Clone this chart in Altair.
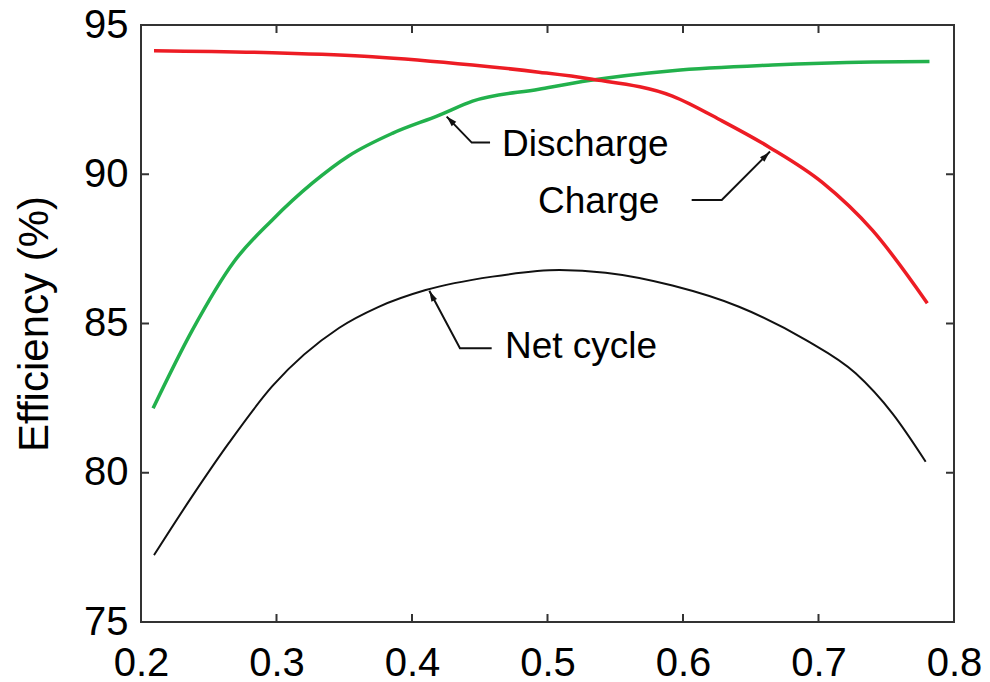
import altair as alt
import pandas as pd

# Charge (red)
charge_x = [0.2096, 0.2969, 0.3707, 0.4447, 0.4937, 0.5306, 0.5922, 0.6291, 0.6639, 0.7030, 0.7399, 0.7803]
charge_y = [94.14, 94.07, 93.94, 93.66, 93.42, 93.20, 92.62, 91.78, 90.90, 89.72, 88.12, 85.68]

# Discharge (green)
discharge_x = [0.2089, 0.2379, 0.2686, 0.2969, 0.3264, 0.3535, 0.3855, 0.4202, 0.4447, 0.4937, 0.5306, 0.5922, 0.6661, 0.7399, 0.7819]
discharge_y = [82.16, 84.78, 87.07, 88.47, 89.70, 90.62, 91.37, 91.98, 92.45, 92.85, 93.14, 93.47, 93.66, 93.76, 93.78]

# Net cycle (black)
net_x = [0.2096, 0.2376, 0.2649, 0.2969, 0.3461, 0.3750, 0.4101, 0.4594, 0.5089, 0.5429, 0.5922, 0.6413, 0.6905, 0.7274, 0.7545, 0.7791]
net_y = [77.24, 79.20, 81.00, 82.90, 84.85, 85.55, 86.12, 86.57, 86.79, 86.70, 86.27, 85.56, 84.45, 83.33, 81.99, 80.37]

x_ticks = [0.2, 0.3, 0.4, 0.5, 0.6, 0.7, 0.8]
y_ticks = [75, 80, 85, 90, 95]

labels = ["Discharge", "Charge", "Net cycle"]
label_x = [0.4664, 0.4930, 0.4686]
label_y = [90.61, 88.69, 83.83]

# annotation arrows: end of horizontal stub, elbow, tip
arrow_names = ["Discharge", "Charge", "Net cycle"]
arrow_x = [[0.4576, 0.4441, 0.4256], [0.6064, 0.6286, 0.6642], [0.4588, 0.4354, 0.4128]]
arrow_y = [[91.06, 91.06, 91.93], [89.14, 89.14, 90.76], [84.17, 84.17, 86.10]]
head_x = [0.4283, 0.6612, 0.4146]
head_y = [91.81, 90.62, 85.93]
head_angle = [316, 45, 332]

W, H = 813, 597
FONT = "Liberation Sans"

xs = alt.Scale(domain=[0.2, 0.8], nice=False, zero=False)
ys = alt.Scale(domain=[75, 95], nice=False, zero=False)

def series_df(xv, yv):
    return pd.DataFrame({"x": xv, "y": yv})

base_x = alt.X("x:Q", scale=xs, axis=alt.Axis(
    values=x_ticks, format=".1f", title=None, ticks=False, domain=False, grid=False,
    labelFontSize=40, labelFont=FONT, labelColor="black", labelPadding=21,
    labelFlush=False, labelOverlap=False))
base_y = alt.Y("y:Q", scale=ys, axis=alt.Axis(
    values=y_ticks, format="d", title="Efficiency (%)", ticks=False, domain=False, grid=False,
    labelFontSize=40, labelFont=FONT, labelColor="black", labelPadding=13,
    labelFlush=False, labelOverlap=False,
    titleFontSize=42, titleFont=FONT, titleFontWeight="normal", titleColor="black",
    titlePadding=27))

net = alt.Chart(series_df(net_x, net_y)).mark_line(
    color="#111111", strokeWidth=2, interpolate="monotone").encode(x=base_x, y=base_y)
green = alt.Chart(series_df(discharge_x, discharge_y)).mark_line(
    color="#22b14c", strokeWidth=3.5, interpolate="monotone").encode(
    x=alt.X("x:Q", scale=xs), y=alt.Y("y:Q", scale=ys))
red = alt.Chart(series_df(charge_x, charge_y)).mark_line(
    color="#ed1c24", strokeWidth=3.5, interpolate="monotone").encode(
    x=alt.X("x:Q", scale=xs), y=alt.Y("y:Q", scale=ys))

# inward ticks
xt = pd.DataFrame({"t": x_ticks[1:-1]})
yt = pd.DataFrame({"t": y_ticks[1:-1]})
tick_style = dict(color="#333333", strokeWidth=2)
tb = alt.Chart(xt).mark_rule(**tick_style).encode(x=alt.X("t:Q", scale=xs), y=alt.value(H), y2=alt.value(H - 8))
tt = alt.Chart(xt).mark_rule(**tick_style).encode(x=alt.X("t:Q", scale=xs), y=alt.value(0), y2=alt.value(8))
tl = alt.Chart(yt).mark_rule(**tick_style).encode(y=alt.Y("t:Q", scale=ys), x=alt.value(0), x2=alt.value(8))
tr = alt.Chart(yt).mark_rule(**tick_style).encode(y=alt.Y("t:Q", scale=ys), x=alt.value(W), x2=alt.value(W - 8))

# annotations
rows = []
for name, axv, ayv in zip(arrow_names, arrow_x, arrow_y):
    for i, (a, b) in enumerate(zip(axv, ayv)):
        rows.append({"g": name, "o": i, "x": a, "y": b})
arrows = alt.Chart(pd.DataFrame(rows)).mark_line(color="#111111", strokeWidth=2).encode(
    x=alt.X("x:Q", scale=xs), y=alt.Y("y:Q", scale=ys), detail="g:N", order="o:Q")
heads = alt.Chart(pd.DataFrame({"x": head_x, "y": head_y, "a": head_angle})).mark_point(
    shape="M-0.6,1L0,-1L0.6,1Z", filled=True, color="#111111", size=110, opacity=1).encode(
    x=alt.X("x:Q", scale=xs), y=alt.Y("y:Q", scale=ys),
    angle=alt.Angle("a:Q", scale=None))
texts = alt.Chart(pd.DataFrame({"x": label_x, "y": label_y, "t": labels})).mark_text(
    align="left", baseline="alphabetic", fontSize=37, font=FONT, color="black").encode(
    x=alt.X("x:Q", scale=xs), y=alt.Y("y:Q", scale=ys), text="t:N")

chart = alt.layer(net, green, red, tb, tt, tl, tr, arrows, heads, texts).properties(
    width=W, height=H,
    autosize=alt.AutoSizeParams(type="none"),
    padding={"left": 133, "top": 17, "right": 28, "bottom": 60},
).configure(background="white").configure_view(stroke="#333333", strokeWidth=2)

chart.save("out.html", embed_options={"renderer": "svg", "actions": False})
